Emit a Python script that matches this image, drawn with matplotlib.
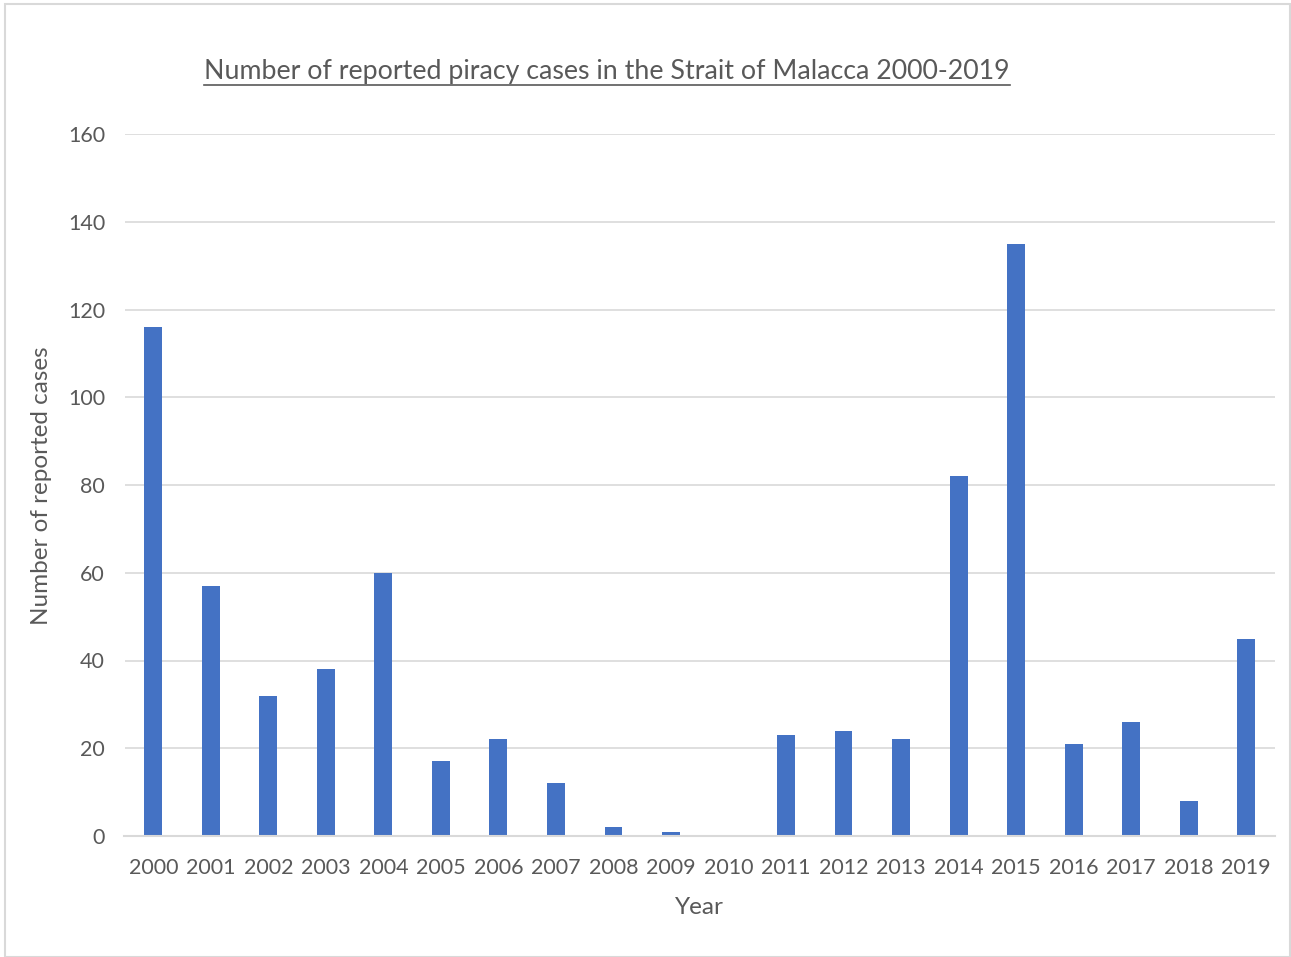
import numpy as np
import matplotlib.pyplot as plt
from matplotlib.lines import Line2D
from matplotlib.patches import Rectangle

years = [str(y) for y in range(2000, 2020)]
cases = [116, 57, 32, 38, 60, 17, 22, 12, 2, 1, 0, 23, 24, 22, 82, 135, 21, 26, 8, 45]
yticks = [0, 20, 40, 60, 80, 100, 120, 140, 160]

plt.rcParams['font.family'] = ['Lato', 'DejaVu Sans']
TXT = '#595959'
W, H = 1291, 957

fig = plt.figure(figsize=(W / 100, H / 100), dpi=100)
# chart border
fig.patches.append(Rectangle((5 / W, 0), (W - 6) / W, (H - 4) / H, transform=fig.transFigure,
                             fill=False, edgecolor='#d9d9d9', linewidth=1.5))

ax = fig.add_axes([124.5 / W, (H - 836) / H, 1150.5 / W, (836 - 134) / H])
x = np.arange(len(years))
ax.bar(x, cases, width=0.31, color='#4472C4', zorder=3)
ax.set_xlim(-0.5, len(years) - 0.5)
ax.set_ylim(0, 160)
ax.set_yticks(yticks)
ax.set_xticks(x)
ax.set_xticklabels(years)
ax.grid(axis='y', color='#d9d9d9', linewidth=1.2, zorder=0)
for s in ['top', 'right', 'left']:
    ax.spines[s].set_visible(False)
ax.spines['bottom'].set_color('#d9d9d9')
ax.spines['bottom'].set_linewidth(1.5)
ax.spines['bottom'].set_zorder(4)
ax.tick_params(length=0, labelsize=15.5, labelcolor=TXT)
ax.tick_params(axis='y', pad=14)
ax.tick_params(axis='x', pad=16)

fig.text(699 / W, 1 - 908 / H, 'Year', fontsize=17.5, color=TXT, ha='center', va='center')
fig.text(42 / W, 1 - 486 / H, 'Number of reported cases', rotation=90, fontsize=17.5,
         color=TXT, ha='center', va='center')

title = fig.text(607 / W, 1 - 72 / H, 'Number of reported piracy cases in the Strait of Malacca 2000-2019',
                 fontsize=19.3, color=TXT, ha='center', va='center')
fig.canvas.draw()
bb = title.get_window_extent().transformed(fig.transFigure.inverted())
fig.add_artist(Line2D([bb.x0, bb.x1], [1 - 85 / H, 1 - 85 / H], transform=fig.transFigure,
                      color=TXT, linewidth=1.2))

fig.savefig('out.png', dpi=100)
